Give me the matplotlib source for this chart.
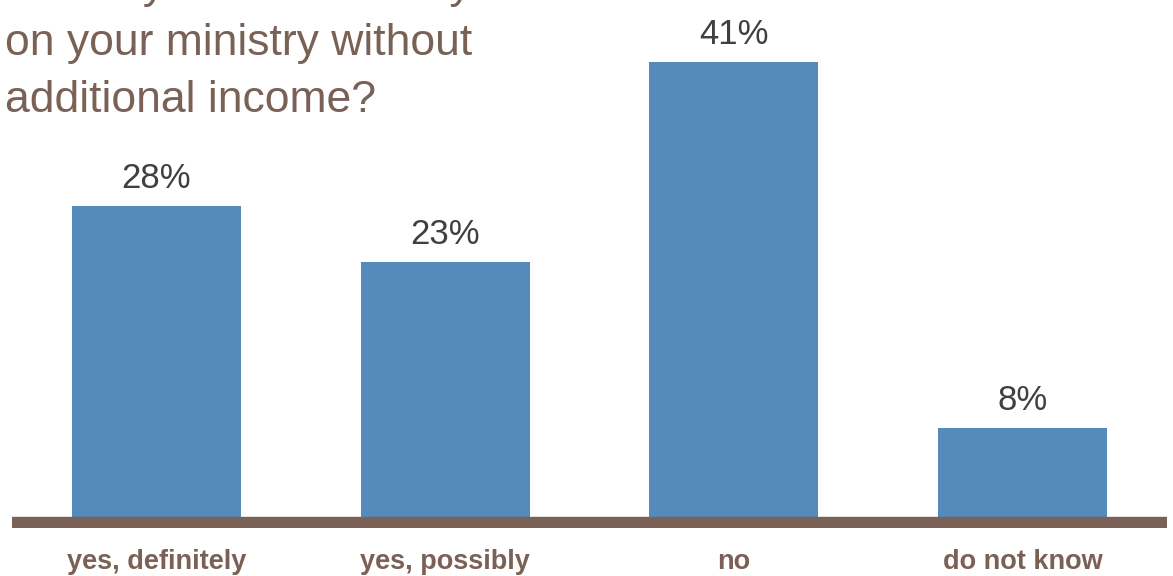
import matplotlib.pyplot as plt

categories = ["yes, definitely", "yes, possibly", "no", "do not know"]
shares = [28, 23, 41, 8]
title_lines = ["Would you able to carry", "on your ministry without", "additional income?"]

BLUE = "#548bba"
BROWN = "#7a6156"
DARK = "#404040"

fig = plt.figure(figsize=(11.73, 5.76), dpi=100)
# axes run from the bottom of the brown base strip up to the top edge
ax = fig.add_axes([12 / 1173, 48 / 576, 1155 / 1173, 528 / 576])

x = range(len(categories))
bars = ax.bar(x, shares, width=0.586, color=BLUE, zorder=2)
ax.set_xlim(-0.5, 3.5)
ax.set_ylim(-0.99, 46.6)

# thick brown baseline under the bars
ax.axhspan(-0.99, 0, color=BROWN, zorder=3)

for rect, val in zip(bars, shares):
    ax.annotate(f"{val}%", (rect.get_x() + rect.get_width() / 2, val),
                xytext=(0, 13), textcoords="offset points",
                ha="center", va="baseline", fontsize=25, color=DARK,
                family="Liberation Sans")

ax.set_xticks(list(x))
ax.set_xticklabels(categories)
ax.tick_params(axis="x", length=0, pad=15)
for lbl in ax.get_xticklabels():
    lbl.set_fontsize(19.5)
    lbl.set_fontweight("bold")
    lbl.set_family("Liberation Sans")
    lbl.set_color(BROWN)
    lbl.set_verticalalignment("top")
ax.set_yticks([])
for s in ax.spines.values():
    s.set_visible(False)

# question text, top-left, first line runs off the top
baselines = [-2, 55, 112]
for line, yb in zip(title_lines, baselines):
    fig.text(5 / 1173, 1 - yb / 576, line, ha="left", va="baseline",
             fontsize=32, color=BROWN, family="Liberation Sans")

fig.savefig("out.png", dpi=100)
